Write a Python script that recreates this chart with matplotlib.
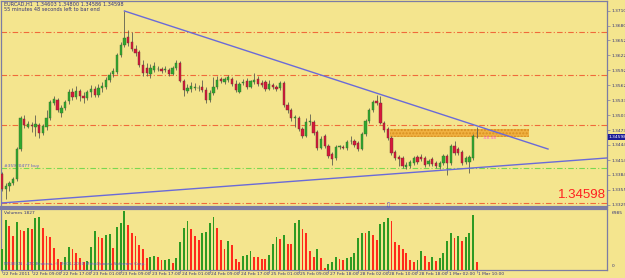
import matplotlib
matplotlib.use("Agg")
import matplotlib.pyplot as plt
import numpy as np

# EURCAD H1 candles, 22 Feb 2011 01:00 .. 1 Mar 2011 10:00
opens = [1.33864, 1.33566, 1.33626, 1.33686, 1.33765, 1.34360, 1.34956, 1.34797, 1.34837, 1.34797,
         1.34837, 1.34678, 1.34797, 1.34976, 1.35273, 1.35333, 1.35075, 1.35174, 1.35313, 1.35492,
         1.35393, 1.35512, 1.35412, 1.35373, 1.35492, 1.35552, 1.35432, 1.35571, 1.35591, 1.35730,
         1.35849, 1.35889, 1.36226, 1.36425, 1.36584, 1.36484, 1.36345, 1.36286, 1.36028, 1.35968,
         1.35849, 1.35929, 1.35948, 1.35948, 1.35929, 1.35929, 1.35849, 1.35968, 1.36068, 1.35710,
         1.35512, 1.35552, 1.35571, 1.35571, 1.35591, 1.35532, 1.35333, 1.35472, 1.35591, 1.35750,
         1.35691, 1.35730, 1.35750, 1.35651, 1.35492, 1.35671, 1.35710, 1.35591, 1.35691, 1.35750,
         1.35671, 1.35691, 1.35552, 1.35631, 1.35591, 1.35571, 1.35671, 1.35234, 1.35135, 1.34976,
         1.34976, 1.34757, 1.34618, 1.34896, 1.34896, 1.34698, 1.34380, 1.34618, 1.34420, 1.34261,
         1.34182, 1.34400, 1.34400, 1.34380, 1.34519, 1.34519, 1.34479, 1.34360, 1.34658, 1.34916,
         1.35135, 1.35313, 1.35273, 1.34876, 1.34757, 1.34579, 1.34301, 1.34202, 1.34182, 1.34003,
         1.34023, 1.34083, 1.34202, 1.34202, 1.34182, 1.34063, 1.34162, 1.34083, 1.34003, 1.34083,
         1.34222, 1.34083, 1.34420, 1.34360, 1.34301, 1.34102, 1.34102, 1.34182, 1.34603]
highs = [1.33904, 1.33686, 1.33725, 1.33805, 1.34400, 1.35015, 1.35035, 1.34916, 1.34896, 1.35035,
         1.34876, 1.34857, 1.35135, 1.35333, 1.35412, 1.35373, 1.35234, 1.35333, 1.35552, 1.35571,
         1.35611, 1.35552, 1.35492, 1.35532, 1.35631, 1.35611, 1.35651, 1.35691, 1.35790, 1.35889,
         1.35968, 1.36266, 1.36484, 1.37100, 1.36723, 1.36683, 1.36425, 1.36326, 1.36127, 1.36068,
         1.36048, 1.36088, 1.36008, 1.35988, 1.36008, 1.35968, 1.36008, 1.36127, 1.36107, 1.35750,
         1.35651, 1.35691, 1.35671, 1.35631, 1.35730, 1.35591, 1.35532, 1.35790, 1.35810, 1.35790,
         1.35790, 1.35830, 1.35790, 1.35730, 1.35691, 1.35750, 1.35770, 1.35730, 1.35869, 1.35810,
         1.35730, 1.35730, 1.35730, 1.35671, 1.35631, 1.35710, 1.35710, 1.35293, 1.35174, 1.35035,
         1.35015, 1.34797, 1.34976, 1.35055, 1.34936, 1.34738, 1.34618, 1.34658, 1.34460, 1.34301,
         1.34440, 1.34440, 1.34440, 1.34539, 1.34618, 1.34559, 1.34519, 1.34698, 1.34956, 1.35174,
         1.35333, 1.35432, 1.35412, 1.34916, 1.34797, 1.34618, 1.34341, 1.34241, 1.34222, 1.34102,
         1.34142, 1.34222, 1.34241, 1.34261, 1.34222, 1.34162, 1.34202, 1.34122, 1.34122, 1.34261,
         1.34261, 1.34460, 1.34519, 1.34400, 1.34341, 1.34222, 1.34241, 1.34658, 1.34800]
lows = [1.33527, 1.33368, 1.33527, 1.33646, 1.33725, 1.34321, 1.34777, 1.34777, 1.34698, 1.34618,
        1.34579, 1.34638, 1.34738, 1.34936, 1.35234, 1.35095, 1.34996, 1.35135, 1.35254, 1.35333,
        1.35353, 1.35313, 1.35273, 1.35333, 1.35393, 1.35393, 1.35393, 1.35492, 1.35552, 1.35691,
        1.35790, 1.35849, 1.36187, 1.36385, 1.36405, 1.36306, 1.36206, 1.35988, 1.35810, 1.35810,
        1.35770, 1.35889, 1.35909, 1.35869, 1.35889, 1.35810, 1.35830, 1.35929, 1.35691, 1.35412,
        1.35472, 1.35492, 1.35532, 1.35512, 1.35492, 1.35273, 1.35293, 1.35432, 1.35552, 1.35671,
        1.35651, 1.35691, 1.35611, 1.35492, 1.35472, 1.35631, 1.35552, 1.35571, 1.35651, 1.35611,
        1.35591, 1.35512, 1.35532, 1.35552, 1.35512, 1.35532, 1.35194, 1.35075, 1.34916, 1.34797,
        1.34718, 1.34579, 1.34598, 1.34837, 1.34638, 1.34341, 1.34360, 1.34380, 1.34182, 1.34043,
        1.34142, 1.34360, 1.34360, 1.34341, 1.34460, 1.34400, 1.34321, 1.34341, 1.34618, 1.34876,
        1.35095, 1.35234, 1.34857, 1.34698, 1.34539, 1.34241, 1.34142, 1.34023, 1.33983, 1.33964,
        1.33983, 1.34043, 1.34063, 1.34122, 1.34003, 1.34023, 1.34023, 1.33983, 1.33964, 1.34043,
        1.33845, 1.34043, 1.34241, 1.34241, 1.34043, 1.34063, 1.33884, 1.34142, 1.34586]
closes = [1.33566, 1.33626, 1.33686, 1.33765, 1.34360, 1.34976, 1.34837, 1.34857, 1.34817, 1.34857,
          1.34678, 1.34817, 1.34976, 1.35293, 1.35353, 1.35135, 1.35174, 1.35293, 1.35492, 1.35393,
          1.35512, 1.35412, 1.35373, 1.35492, 1.35552, 1.35432, 1.35571, 1.35611, 1.35730, 1.35830,
          1.35909, 1.36226, 1.36425, 1.36564, 1.36464, 1.36345, 1.36266, 1.36028, 1.35869, 1.35869,
          1.35968, 1.36008, 1.35948, 1.35909, 1.35948, 1.35849, 1.35968, 1.36068, 1.35710, 1.35532,
          1.35571, 1.35611, 1.35591, 1.35571, 1.35532, 1.35333, 1.35472, 1.35591, 1.35730, 1.35710,
          1.35750, 1.35790, 1.35651, 1.35532, 1.35651, 1.35691, 1.35591, 1.35710, 1.35730, 1.35651,
          1.35631, 1.35552, 1.35651, 1.35591, 1.35552, 1.35671, 1.35234, 1.35135, 1.34976, 1.34996,
          1.34757, 1.34618, 1.34896, 1.34916, 1.34678, 1.34380, 1.34559, 1.34420, 1.34222, 1.34162,
          1.34400, 1.34420, 1.34380, 1.34499, 1.34519, 1.34440, 1.34360, 1.34658, 1.34916, 1.35135,
          1.35293, 1.35273, 1.34876, 1.34738, 1.34579, 1.34281, 1.34182, 1.34162, 1.34023, 1.34043,
          1.34102, 1.34182, 1.34102, 1.34162, 1.34043, 1.34122, 1.34063, 1.34023, 1.34083, 1.34222,
          1.34083, 1.34420, 1.34281, 1.34281, 1.34083, 1.34182, 1.34202, 1.34618, 1.34598]
volumes = [2480, 5900, 5190, 4010, 5660, 4720, 4600, 4960, 4840, 6140,
           6250, 4960, 4010, 3890, 2600, 1300, 940, 1530, 2710, 2480,
           2010, 1420, 940, 1060, 2710, 4600, 3890, 3780, 4130, 4250,
           2600, 5070, 5550, 6985, 5310, 4370, 4010, 2950, 2480, 1420,
           1530, 1650, 1530, 1180, 1240, 1300, 830, 1420, 3300, 4960,
           5780, 4840, 4010, 3540, 4370, 4480, 5550, 6250, 4960, 3540,
           2480, 3420, 2950, 1300, 940, 1650, 1770, 2240, 1530, 1530,
           1300, 1300, 1770, 3070, 3890, 3660, 4130, 3070, 3070, 5550,
           5900, 4840, 4370, 2240, 1530, 2480, 1420, 240, 710, 940,
           1530, 1300, 1180, 1420, 1530, 2010, 3780, 4370, 4370, 4600,
           4130, 3540, 5430, 5660, 6140, 5780, 3300, 2950, 2480, 2010,
           1180, 940, 1180, 2240, 1650, 940, 1530, 1060, 1420, 2010,
           3420, 4370, 3780, 4010, 3420, 3890, 4370, 6490, 940]

date_labels = ["22 Feb 2011", "22 Feb 09:00", "22 Feb 17:00", "23 Feb 01:00", "23 Feb 09:00",
               "23 Feb 17:00", "24 Feb 01:00", "24 Feb 09:00", "24 Feb 17:00", "25 Feb 01:00",
               "25 Feb 09:00", "27 Feb 18:00", "28 Feb 02:00", "28 Feb 10:00", "28 Feb 18:00",
               "1 Mar 02:00", "1 Mar 10:00"]
price_ticks = [1.37100, 1.36805, 1.36520, 1.36220, 1.35920, 1.35625, 1.35330,
               1.35030, 1.34735, 1.34440, 1.34140, 1.33845, 1.33550, 1.33250]

# chart objects
levels_red = [1.36683, 1.35830, 1.34837, 1.33288]
level_buy = 1.33983
trend_down = [(33, 1.37100), (147.2, 1.34360)]
trend_up = [(-0.3, 1.33288), (163.1, 1.34182)]
zone_bars = (104.6, 142.0)
zone_prices = (1.34598, 1.34757)
last_price = 1.34598

bg = '#f4e58e'
spine_col = '#7c7ca4'
txt_col = '#34347a'
small = 3.2

plt.rcParams['font.family'] = 'DejaVu Sans'
fig = plt.figure(figsize=(6.25, 2.78), dpi=100, facecolor=bg)
ax = fig.add_axes([1/625, 1 - 207/278, 606/625, 206/278], facecolor=bg)
axv = fig.add_axes([1/625, 1 - 270/278, 606/625, 61/278], facecolor=bg)

x = np.arange(len(closes))
o = np.array(opens)
c = np.array(closes)
h = np.array(highs)
l = np.array(lows)
up = c >= o

# levels and objects
for lv in levels_red:
    ax.axhline(lv, color='#f06a3a', lw=0.8, dashes=(5, 2, 1, 2), zorder=1)
ax.axhline(level_buy, color='#7ad850', lw=0.8, dashes=(5, 2, 1, 2), zorder=1)
ax.add_patch(plt.Rectangle((zone_bars[0], zone_prices[0]), zone_bars[1] - zone_bars[0],
                           zone_prices[1] - zone_prices[0], facecolor='#f0b040',
                           edgecolor='#d89020', hatch='.....', lw=0, zorder=2))
ax.plot(*zip(*trend_down), color='#6a6ad8', lw=1.0, zorder=5)
ax.plot(*zip(*trend_up), color='#6a6ad8', lw=1.0, zorder=5)

# candles
ax.vlines(x, l, h, color='#5e5e50', lw=0.6, zorder=3)
body_low = np.minimum(o, c)
body_h = np.maximum(np.abs(c - o), 0.00004)
ax.bar(x[up], body_h[up], bottom=body_low[up], width=0.62, color='#2ea82e',
       edgecolor='#3f6a30', lw=0.3, zorder=4)
ax.bar(x[~up], body_h[~up], bottom=body_low[~up], width=0.62, color='#d8183c',
       edgecolor='#6a3030', lw=0.3, zorder=4)

ax.set_xlim(-0.27, 163.1)
ax.set_ylim(1.33209, 1.37298)
ax.yaxis.tick_right()
ax.set_yticks(price_ticks)
ax.set_yticklabels([f"{p:.5f}" for p in price_ticks], fontsize=small, color=txt_col)
ax.tick_params(axis='y', length=2, width=0.5, pad=1, colors=spine_col, labelcolor=txt_col)
ax.set_xticks([])
for s in ax.spines.values():
    s.set_color(spine_col)
    s.set_linewidth(0.9)
ax.spines['bottom'].set_linewidth(1.6)

# texts on price panel
ax.text(0.005, 0.995, "EURCAD,H1  1.34603 1.34800 1.34586 1.34598\n55 minutes 48 seconds left to bar end",
        transform=ax.transAxes, fontsize=3.6, color=txt_col, va='top', ha='left', linespacing=1.1)
ax.text(0.5, level_buy + 0.0001, "#35920477 buy", fontsize=small, color='#5a5ac8', va='bottom', ha='left')
ax.text(129.6, 1.34579, "-58.48", fontsize=small, color='#ff5ac8', va='center', ha='left')
ax.text(162.8, 1.33447, f"{last_price:.5f}", fontsize=9.5, color='#ff2020',
        family='Liberation Sans', va='center', ha='right')
ax.text(1.003, last_price, f"{last_price:.5f}", transform=ax.get_yaxis_transform(),
        fontsize=small, color='white', va='center', ha='left',
        bbox=dict(boxstyle='square,pad=0.15', facecolor='#1c1c96', edgecolor='none'))

# volumes
vol = np.array(volumes)
vcol = ['#2e9a22'] + ['#2e9a22' if vol[i] > vol[i - 1] else '#ff2a1a' for i in range(1, len(vol))]
axv.bar(x, vol, width=0.5, color=vcol, zorder=3)
axv.set_xlim(-0.27, 163.1)
axv.set_ylim(0, 7222)
axv.set_yticks([])
axv.set_xticks(x[::8])
axv.set_xticklabels([])
axv.tick_params(axis='x', length=2, width=0.5, colors=spine_col)
for i, lab in zip(x[::8], date_labels):
    axv.text(i + 0.4, -0.035, lab, transform=axv.get_xaxis_transform(),
             fontsize=small, color=txt_col, va='top', ha='left')
for s in axv.spines.values():
    s.set_color(spine_col)
    s.set_linewidth(0.9)
axv.spines['top'].set_linewidth(1.6)
axv.text(0.005, 0.96, "Volumes 1827", transform=axv.transAxes, fontsize=small,
         color=txt_col, va='top', ha='left')
axv.text(0.005, 0.06, "MT4ECN - ATC Brokers, \u00a9 2001-2010 MetaQuotes Software Corp.",
         transform=axv.transAxes, fontsize=small, color='#5a5ac8', va='bottom', ha='left')
axv.text(1.008, 0.96, "6985", transform=axv.transAxes, fontsize=small, color=txt_col, va='top', ha='left')
axv.text(1.008, 0.04, "0", transform=axv.transAxes, fontsize=small, color=txt_col, va='bottom', ha='left')
axv.text(104, 6985, "\u21e9", fontsize=6, color='#5a5ac8', ha='center', va='bottom', zorder=4)

fig.savefig('out.png', dpi=100, facecolor=bg)
